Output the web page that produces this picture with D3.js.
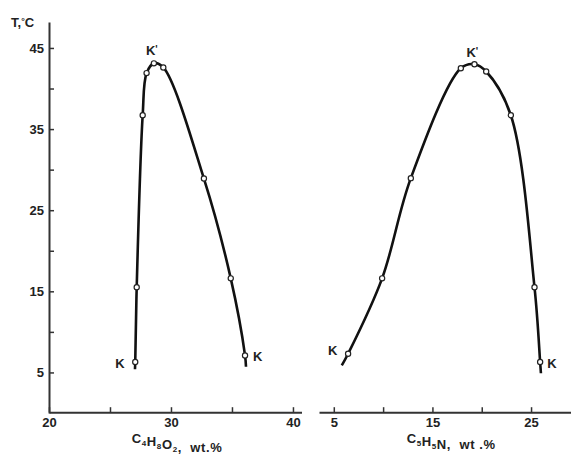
<!DOCTYPE html>
<html>
<head>
<meta charset="utf-8">
<script src="https://cdn.jsdelivr.net/npm/d3@7"></script>
<style>
  body { margin: 0; background: #fff; }
  svg { display: block; }
  text { font-family: "Liberation Sans", Arial, sans-serif; font-weight: bold; fill: #222; }
</style>
</head>
<body>
<script>
// left panel: C4H8O2 wt.% vs T
const leftX = [27.07, 27.19, 27.68, 28.0, 28.6, 29.37, 32.7, 34.9, 36.07];
const leftT = [6.3, 15.5, 36.7, 41.9, 43.1, 42.6, 28.9, 16.6, 7.1];
const leftEnds = [[27.05, 5.4], [36.15, 5.7]];

// right panel: C5H5N wt.% vs T
const rightX = [6.45, 9.9, 12.81, 17.88, 19.26, 20.45, 22.95, 25.35, 25.92];
const rightT = [7.3, 16.6, 28.95, 42.5, 43.0, 42.1, 36.7, 15.5, 6.3];
const rightEnds = [[5.81, 5.86], [26.0, 4.9]];

const yTicks = [5, 10, 15, 20, 25, 30, 35, 40, 45];
const yLabels = [5, 15, 25, 35, 45];
const leftTicks = [20, 25, 30, 35, 40];
const leftLabels = [20, 30, 40];
const rightTicks = [5, 10, 15, 20, 25];
const rightLabels = [5, 15, 25];

const W = 571, H = 455;
const svg = d3.select('body').append('svg').attr('width', W).attr('height', H);

const y = d3.scaleLinear().domain([0, 48.2]).range([413, 22]);
const xL = d3.scaleLinear().domain([20, 40.7]).range([49, 301.5]);
const xR = d3.scaleLinear().domain([3.5, 29.05]).range([319, 571]);

function styleAxis(g) {
  g.select('.domain').attr('stroke', '#333').attr('stroke-width', 2);
  g.selectAll('.tick line').attr('stroke', '#333').attr('stroke-width', 1.5);
  g.selectAll('.tick text').style('font-size', '13px').attr('fill', '#222');
}

// y axis
svg.append('g')
  .attr('transform', 'translate(49,0)')
  .call(d3.axisLeft(y).tickValues(yTicks).tickSizeInner(-5).tickSizeOuter(0).tickPadding(5)
    .tickFormat(d => yLabels.includes(d) ? d : ''))
  .call(styleAxis);

// x axes
svg.append('g')
  .attr('transform', 'translate(0,' + y(0.1) + ')')
  .call(d3.axisBottom(xL).tickValues(leftTicks).tickSizeInner(-5).tickSizeOuter(0).tickPadding(6)
    .tickFormat(d => leftLabels.includes(d) ? d : ''))
  .call(styleAxis);

svg.append('g')
  .attr('transform', 'translate(0,' + y(0.1) + ')')
  .call(d3.axisBottom(xR).tickValues(rightTicks).tickSizeInner(-5).tickSizeOuter(0).tickPadding(6)
    .tickFormat(d => rightLabels.includes(d) ? d : ''))
  .call(styleAxis);

// y title
const yt = svg.append('text').attr('x', 11).attr('y', 27).style('font-size', '13px');
yt.append('tspan').text('T,');
yt.append('tspan').text('°').style('font-size', '9px').attr('dy', -3);
yt.append('tspan').text('C').attr('dy', 3);

// x titles with subscripts
function formula(x, parts, tail) {
  const t = svg.append('text').attr('x', x).attr('y', 443)
    .attr('text-anchor', 'middle').style('font-size', '13px')
    .style('letter-spacing', '0.6px').attr('xml:space', 'preserve');
  parts.forEach(p => {
    t.append('tspan').text(p[0]);
    if (p[1]) {
      t.append('tspan').text(p[1]).style('font-size', '8px').attr('dy', 3);
      t.append('tspan').text('').attr('dy', -3);
    }
  });
  t.append('tspan').text(tail);
}
formula(xL(30.5), [['C', '4'], ['H', '8'], ['O', '2']], ',\u00a0\u00a0wt.%');
formula(xR(16.9), [['C', '5'], ['H', '5'], ['N', '']], ',\u00a0\u00a0wt\u00a0.%');

function panel(xs, ts, ends, x) {
  const pts = xs.map((v, i) => [v, ts[i]]);
  const curve = [ends[0], ...pts, ends[1]];
  const line = d3.line().x(d => x(d[0])).y(d => y(d[1])).curve(d3.curveCatmullRom.alpha(0.5));
  svg.append('path').datum(curve).attr('d', line)
    .attr('fill', 'none').attr('stroke', '#111').attr('stroke-width', 2.6);
  svg.selectAll(null).data(pts).enter().append('circle')
    .attr('cx', d => x(d[0])).attr('cy', d => y(d[1])).attr('r', 2.6)
    .attr('fill', '#fff').attr('stroke', '#222').attr('stroke-width', 1.2);
  return pts;
}

const lp = panel(leftX, leftT, leftEnds, xL);
const rp = panel(rightX, rightT, rightEnds, xR);

function label(txt, px, py, dx, dy, prime) {
  const t = svg.append('text').attr('x', px + dx).attr('y', py + dy).style('font-size', '13px');
  t.append('tspan').text(txt);
  if (prime) t.append('tspan').text("'").style('font-size', '10px').attr('dy', -2);
}

// critical points
label('K', xL(lp[4][0]), y(lp[4][1]), -8, -8, true);
label('K', xR(rp[4][0]), y(rp[4][1]), -8, -7, true);
label('K', xL(lp[0][0]), y(lp[0][1]), -20, 6, false);
label('K', xL(lp[8][0]), y(lp[8][1]), 8, 6, false);
label('K', xR(rp[0][0]), y(rp[0][1]), -20, 1, false);
label('K', xR(rp[8][0]), y(rp[8][1]), 7, 6, false);
</script>
</body>
</html>
